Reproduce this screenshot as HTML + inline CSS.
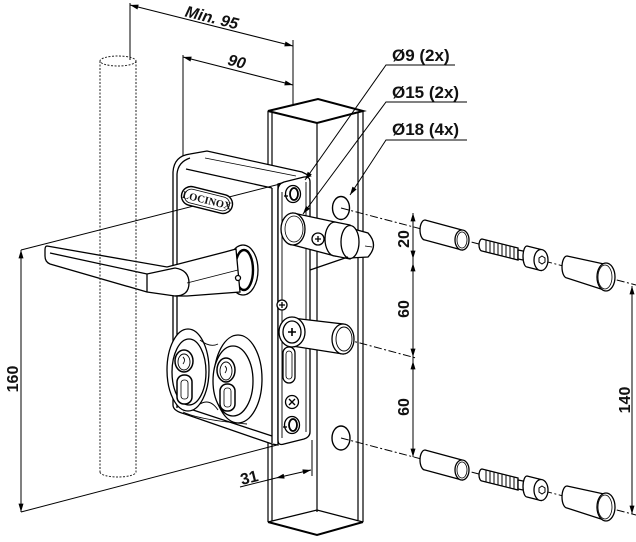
<!DOCTYPE html>
<html><head><meta charset="utf-8"><style>
html,body{margin:0;padding:0;background:#fff;}
svg{display:block;}
text{font-family:"Liberation Sans",sans-serif;font-weight:bold;fill:#111;}
</style></head><body>
<svg width="636" height="542" viewBox="0 0 636 542" xmlns="http://www.w3.org/2000/svg">
<defs>
<marker id="ar" viewBox="0 0 10 6" refX="10" refY="3" markerWidth="9" markerHeight="5" markerUnits="userSpaceOnUse" orient="auto-start-reverse"><path d="M0,0 L10,3 L0,6 z" fill="#000"/></marker>
</defs>

<!-- dimension / extension lines -->
<g stroke="#000" fill="none" stroke-width="1">
 <line x1="130" y1="3" x2="130" y2="60"/>
 <line x1="293" y1="40" x2="293" y2="104"/>
 <line x1="130" y1="5" x2="293" y2="46" marker-start="url(#ar)" marker-end="url(#ar)"/>
 <line x1="183" y1="55" x2="183" y2="156"/>
 <line x1="183" y1="57" x2="293" y2="85" marker-start="url(#ar)" marker-end="url(#ar)"/>
 <line x1="21" y1="250" x2="21" y2="512" marker-start="url(#ar)" marker-end="url(#ar)"/>
 <line x1="21" y1="512" x2="277" y2="445"/>
 <line x1="413" y1="213" x2="413" y2="457"/>
 <line x1="413" y1="213" x2="413" y2="259" marker-start="url(#ar)" marker-end="url(#ar)"/>
 <line x1="413" y1="263" x2="413" y2="357" marker-start="url(#ar)" marker-end="url(#ar)"/>
 <line x1="413" y1="361" x2="413" y2="457" marker-start="url(#ar)" marker-end="url(#ar)"/>
 <line x1="632" y1="286" x2="632" y2="514" marker-start="url(#ar)" marker-end="url(#ar)"/>
 <line x1="312" y1="440" x2="312" y2="476"/>
 <line x1="240" y1="487" x2="276" y2="478"/>
 <line x1="276" y1="478" x2="311" y2="470" marker-start="url(#ar)" marker-end="url(#ar)"/>
</g>

<!-- tube -->
<g stroke="#000" fill="none" stroke-width="1.2">
 <line x1="268" y1="111" x2="268" y2="522"/>
 <line x1="272" y1="113" x2="272" y2="521"/>
 <line x1="317" y1="123" x2="317" y2="512"/>
 <line x1="358" y1="113" x2="358" y2="520"/>
 <line x1="363" y1="111" x2="363" y2="522"/>
 <path d="M268,111 L318,99 L363,111 L317,123 Z" stroke-width="2"/>
 <path d="M268,522 L317,535 L363,522" stroke-width="2"/>
 <path d="M268,522 L317,510 L363,522" stroke-width="1.2"/>
 <ellipse cx="341" cy="208" rx="8.5" ry="11.5" fill="#fff" stroke-width="1.4"/>
 <ellipse cx="341" cy="438" rx="9" ry="12" fill="#fff" stroke-width="1.4"/>
</g>

<!-- center lines -->
<g stroke="#000" stroke-width="1" fill="none" stroke-dasharray="8,2.5,2,2.5">
 <line x1="341" y1="208" x2="636" y2="285"/>
 <line x1="341" y1="438" x2="636" y2="515"/>
 <line x1="345" y1="339" x2="416" y2="358"/>
</g>

<!-- lock body -->
<g stroke="#000" stroke-width="1.3" fill="#fff">
 <path d="M173,405 L173,172 Q174,156 190,154 L207,151 L302,172 L310,176 L278,184 L278,445 L272,444 L185,414 Q173,411 173,405 Z"/>
 <path d="M186,169 L272,188" fill="none"/>
 <path d="M177,174 Q178,162 190,158" fill="none"/>
 <line x1="177" y1="174" x2="177" y2="408" fill="none"/>
 <line x1="272" y1="188" x2="272" y2="443" fill="none"/>
 <path d="M187,408 L272,436" fill="none"/>
 <path d="M205,158 L296,176" fill="none" stroke-width="0.8"/>
</g>

<line x1="21" y1="250" x2="280" y2="184" stroke="#000" stroke-width="1"/>

<!-- LOCINOX badge -->
<g transform="translate(207,200) rotate(14)">
 <rect x="-26" y="-9.5" width="52" height="19" rx="9.5" fill="#fff" stroke="#000" stroke-width="1.4"/>
 <rect x="-23" y="-7" width="46" height="14" rx="7" fill="none" stroke="#000" stroke-width="0.8"/>
 <text x="0" y="3.8" text-anchor="middle" font-size="10.5" style="font-family:'Liberation Serif',serif;font-weight:bold">LOCINOX</text>
</g>

<!-- faceplate -->
<g stroke="#000" stroke-width="1.3" fill="#fff">
 <path d="M278,190 Q278,184 284,182 L304,177 Q310,176 310,182 L310,432 Q310,437 304,439 L284,444 Q278,446 278,440 Z"/>
 <path d="M282,192 L282,438 M306,182 L306,432" fill="none" stroke-width="0.9"/>
 <ellipse cx="293" cy="194" rx="7.5" ry="8.5"/>
 <ellipse cx="294" cy="194" rx="4" ry="6" stroke-width="1.8"/>
 <path d="M284,196 L288,196" fill="none"/>
 <!-- latch bolt -->
 <path d="M293,213 L335,222 L335,256 L293,245 Z"/>
 <path d="M350,228 L368,233 Q379,245 368,257 L350,258 Z"/>
 <path d="M335,222 L350,225 L350,259 L335,256 A10,17 0 0 1 335,222 Z"/>
 <ellipse cx="350" cy="242" rx="9" ry="16.5"/>
 <path d="M310,270 L348,257" fill="none"/>
 <path d="M365,246 L372,247" fill="none" stroke-width="0.8"/>
 <ellipse cx="293" cy="229" rx="12" ry="16"/>
 <ellipse cx="294" cy="229" rx="9" ry="13" fill="none" stroke-width="0.8"/>
 <circle cx="318" cy="239" r="6"/>
 <path d="M315,239 L321,239 M318,236 L318,242" fill="none"/>
 <!-- deadbolt -->
 <circle cx="282" cy="305" r="5"/>
 <path d="M279,305 L285,305 M282,302 L282,308" fill="none"/>
 <path d="M292,318 L343,324 L343,354 L292,346 Z"/>
 <ellipse cx="343" cy="339" rx="11" ry="15"/>
 <ellipse cx="344" cy="339" rx="8" ry="12" fill="none" stroke-width="0.9"/>
 <ellipse cx="292" cy="332" rx="13" ry="15"/>
 <ellipse cx="292" cy="332" rx="9" ry="11"/>
 <path d="M288,332 L296,332 M292,328 L292,336" fill="none" stroke-width="1.6"/>
 <rect x="283" y="347" width="12" height="36" rx="6"/>
 <rect x="286" y="351" width="6" height="28" rx="3" fill="none" stroke-width="0.8"/>
 <circle cx="292" cy="402" r="6.5"/>
 <path d="M289,399 L295,405 M295,399 L289,405" fill="none" stroke-width="1.4"/>
 <ellipse cx="292" cy="425" rx="7.5" ry="8.5"/>
 <ellipse cx="293" cy="425" rx="4" ry="6" stroke-width="1.8"/>
 <path d="M283,427 L287,427" fill="none"/>
</g>

<!-- handle -->
<g stroke="#000" stroke-width="1.3" fill="#fff">
 <ellipse cx="243" cy="270" rx="15" ry="25"/>
 <ellipse cx="244" cy="270" rx="9" ry="20" stroke-width="2.4"/>
 <path d="M47,246 L167,267 L225,252 L236,249 L240,292 L187,296 L175,296 L147,292 L50,264 Q45,262 45,256 L45,250 Q45,246 47,246 Z"/>
 <path d="M50,253 L147,274 L175,268" fill="none"/>
 <path d="M147,274 L147,292" fill="none"/>
 <path d="M175,268 Q189,270 189,283 Q189,296 175,296" fill="none"/>
 <path d="M187,283 L238,270" fill="none" stroke-width="0.8"/>
 <circle cx="238" cy="278" r="2.5"/>
</g>

<!-- cylinder escutcheon -->
<g stroke="#000" stroke-width="1.3">
 <ellipse cx="188" cy="370" rx="21" ry="41" fill="#fff"/>
 <ellipse cx="238" cy="379" rx="24" ry="44" fill="#fff"/>
 <ellipse cx="188" cy="370" rx="20" ry="40" fill="#fff" stroke="none"/>
 <ellipse cx="238" cy="379" rx="23" ry="43" fill="#fff" stroke="none"/>
 <ellipse cx="189" cy="372" rx="17" ry="33" fill="#fff"/>
 <ellipse cx="233" cy="381" rx="20" ry="35" fill="#fff"/>
 <ellipse cx="189" cy="372" rx="16" ry="32" fill="#fff" stroke="none"/>
 <ellipse cx="233" cy="381" rx="19" ry="34" fill="#fff" stroke="none"/>
 <path d="M200,340 Q210,348 218,344 M200,404 Q210,398 218,410" fill="none" stroke-width="0.9"/>
 <ellipse cx="184" cy="361" rx="9" ry="11" fill="#fff" stroke-width="1.5"/>
 <ellipse cx="184" cy="362" rx="6" ry="8" fill="none" stroke-width="0.9"/>
 <path d="M183,357 Q186,360 183,364" fill="none" stroke-width="0.9"/>
 <rect x="177" y="375" width="15" height="29" rx="7" fill="#fff" stroke-width="1.5"/>
 <rect x="181" y="380" width="7" height="19" rx="3" fill="none" stroke-width="0.8"/>
 <ellipse cx="226" cy="370" rx="9" ry="12" fill="#fff" stroke-width="1.5"/>
 <ellipse cx="226" cy="371" rx="6" ry="9" fill="none" stroke-width="0.9"/>
 <path d="M225,366 Q228,369 225,373" fill="none" stroke-width="0.9"/>
 <rect x="220" y="384" width="15" height="27" rx="7" fill="#fff" stroke-width="1.5"/>
 <rect x="224" y="388" width="7" height="19" rx="3" fill="none" stroke-width="0.8"/>
 <path d="M183,412 Q200,420 247,424" fill="none" stroke-width="0.9"/>
</g>

<!-- dashed pole -->
<g stroke="#222" stroke-width="1" fill="none" stroke-dasharray="2,1.5">
 <ellipse cx="118" cy="61" rx="18" ry="5"/>
 <line x1="100" y1="61" x2="100" y2="472"/>
 <line x1="136" y1="61" x2="136" y2="472"/>
 <path d="M100,472 A18,5 0 0 0 136,472"/>
</g>

<!-- loose parts (top row) -->
<g id="parts" stroke="#000" stroke-width="1.3" fill="#fff">
 <path d="M425,220 L462,230 L462,250 L425,240 A5,10 0 0 1 425,220 Z"/>
 <ellipse cx="462" cy="240" rx="7" ry="10"/>
 <ellipse cx="462" cy="240" rx="5" ry="8" fill="none" stroke-width="0.8"/>
 <path d="M482,239 L518,248 L518,260 L482,251 A3,6 0 0 1 482,239 Z"/>
 <g fill="none" stroke-width="1">
  <path d="M486,240 L486,252 M490,241 L490,253 M494,242 L494,254 M498,243 L498,255 M502,244 L502,256 M506,245 L506,257 M510,246 L510,258 M514,247 L514,259"/>
 </g>
 <path d="M518,250 L528,252 L528,261 L518,259 Z"/>
 <path d="M527,246 L541,249.5 L541,270.5 L527,267 A4,10.5 0 0 1 527,246 Z"/>
 <ellipse cx="541" cy="260" rx="7" ry="10.5"/>
 <path d="M542,256 L545,258 L545,262 L542,264 L539,262 L539,258 Z" fill="none" stroke-width="1"/>
 <path d="M567,256 L604,264 L604,290 L567,278 A5,11 0 0 1 567,256 Z"/>
 <ellipse cx="606" cy="277" rx="9" ry="14"/>
 <ellipse cx="605" cy="277" rx="7" ry="12" fill="none" stroke-width="0.8"/>
</g>
<use href="#parts" transform="translate(0,230)"/>

<!-- leaders -->
<g stroke="#000" stroke-width="1" fill="none">
 <path d="M455,65 L386,65 L305,180" marker-end="url(#ar)"/>
 <path d="M467,102 L386,102 L303,214" marker-end="url(#ar)"/>
 <path d="M467,140 L386,140 L350,195" marker-end="url(#ar)"/>
</g>

<!-- text -->
<text x="392" y="61" font-size="17">Ø9 (2x)</text>
<text x="392" y="98" font-size="17">Ø15 (2x)</text>
<text x="392" y="135" font-size="17">Ø18 (4x)</text>
<text transform="translate(212,17) rotate(14)" x="0" y="6" text-anchor="middle" font-size="16" font-style="italic">Min. 95</text>
<text transform="translate(237,61) rotate(14)" x="0" y="6" text-anchor="middle" font-size="16" font-style="italic">90</text>
<text transform="translate(249,477) rotate(-14)" x="0" y="6" text-anchor="middle" font-size="16">31</text>
<text transform="translate(12,379) rotate(-90)" x="0" y="6" text-anchor="middle" font-size="16">160</text>
<text transform="translate(403,239) rotate(-90)" x="0" y="6" text-anchor="middle" font-size="16">20</text>
<text transform="translate(403,309) rotate(-90)" x="0" y="6" text-anchor="middle" font-size="16">60</text>
<text transform="translate(403,407) rotate(-90)" x="0" y="6" text-anchor="middle" font-size="16">60</text>
<text transform="translate(624,400) rotate(-90)" x="0" y="6" text-anchor="middle" font-size="16">140</text>
</svg>
</body></html>
